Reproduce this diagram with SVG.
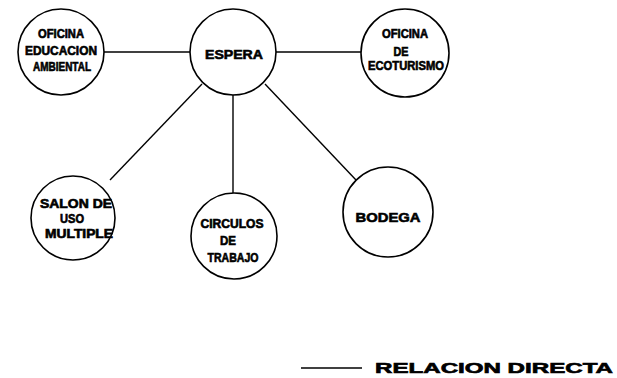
<svg xmlns="http://www.w3.org/2000/svg" width="617" height="378" viewBox="0 0 617 378">
<style>
.n{fill:#fff;stroke:#000;stroke-width:1.6}
.t{font-family:"Liberation Sans",Arial,sans-serif;font-weight:bold;font-size:12px;fill:#000;stroke:#000;stroke-width:0.6;text-anchor:middle}
.c{stroke:#000;stroke-width:1.4;fill:none}
</style>
<rect width="617" height="378" fill="#fff"/>
<g id="connectors">
<line class="c" x1="104" y1="52" x2="190" y2="52"/>
<line class="c" x1="276" y1="52" x2="361" y2="52"/>
<line class="c" x1="202" y1="84" x2="110" y2="180"/>
<line class="c" x1="233" y1="95" x2="233" y2="193"/>
<line class="c" x1="265" y1="84" x2="356" y2="180"/>
</g>
<g id="oficina-educacion">
<circle class="n" cx="61" cy="52" r="43"/>
<text class="t" x="61" y="38" textLength="46" lengthAdjust="spacingAndGlyphs">OFICINA</text>
<text class="t" x="61" y="55" textLength="72" lengthAdjust="spacingAndGlyphs">EDUCACION</text>
<text class="t" x="62" y="71" textLength="58" lengthAdjust="spacingAndGlyphs">AMBIENTAL</text>
</g>
<g id="espera">
<circle class="n" cx="233" cy="52" r="43"/>
<text class="t" x="234" y="59" style="font-size:13px" textLength="58" lengthAdjust="spacingAndGlyphs">ESPERA</text>
</g>
<g id="oficina-ecoturismo">
<circle class="n" cx="405" cy="53" r="44"/>
<text class="t" x="405" y="38" textLength="46" lengthAdjust="spacingAndGlyphs">OFICINA</text>
<text class="t" x="401" y="56" textLength="15" lengthAdjust="spacingAndGlyphs">DE</text>
<text class="t" x="406" y="70" textLength="76" lengthAdjust="spacingAndGlyphs">ECOTURISMO</text>
</g>
<g id="salon">
<circle class="n" cx="73" cy="218" r="42"/>
<text class="t" x="76" y="208" textLength="72" lengthAdjust="spacingAndGlyphs">SALON DE</text>
<text class="t" x="72" y="223" textLength="24" lengthAdjust="spacingAndGlyphs">USO</text>
<text class="t" x="79" y="238" textLength="68" lengthAdjust="spacingAndGlyphs">MULTIPLE</text>
</g>
<g id="circulos">
<circle class="n" cx="234" cy="236" r="43"/>
<text class="t" x="232" y="228" textLength="63" lengthAdjust="spacingAndGlyphs">CIRCULOS</text>
<text class="t" x="228" y="245" textLength="16" lengthAdjust="spacingAndGlyphs">DE</text>
<text class="t" x="233" y="262" textLength="51" lengthAdjust="spacingAndGlyphs">TRABAJO</text>
</g>
<g id="bodega">
<circle class="n" cx="388" cy="212" r="45"/>
<text class="t" x="388" y="222" style="font-size:13px" textLength="65" lengthAdjust="spacingAndGlyphs">BODEGA</text>
</g>
<g id="legend">
<line class="c" x1="301" y1="368" x2="362" y2="368"/>
<text class="t" x="375" y="373" style="text-anchor:start;font-size:14px" textLength="238" lengthAdjust="spacingAndGlyphs">RELACION DIRECTA</text>
</g>
</svg>
